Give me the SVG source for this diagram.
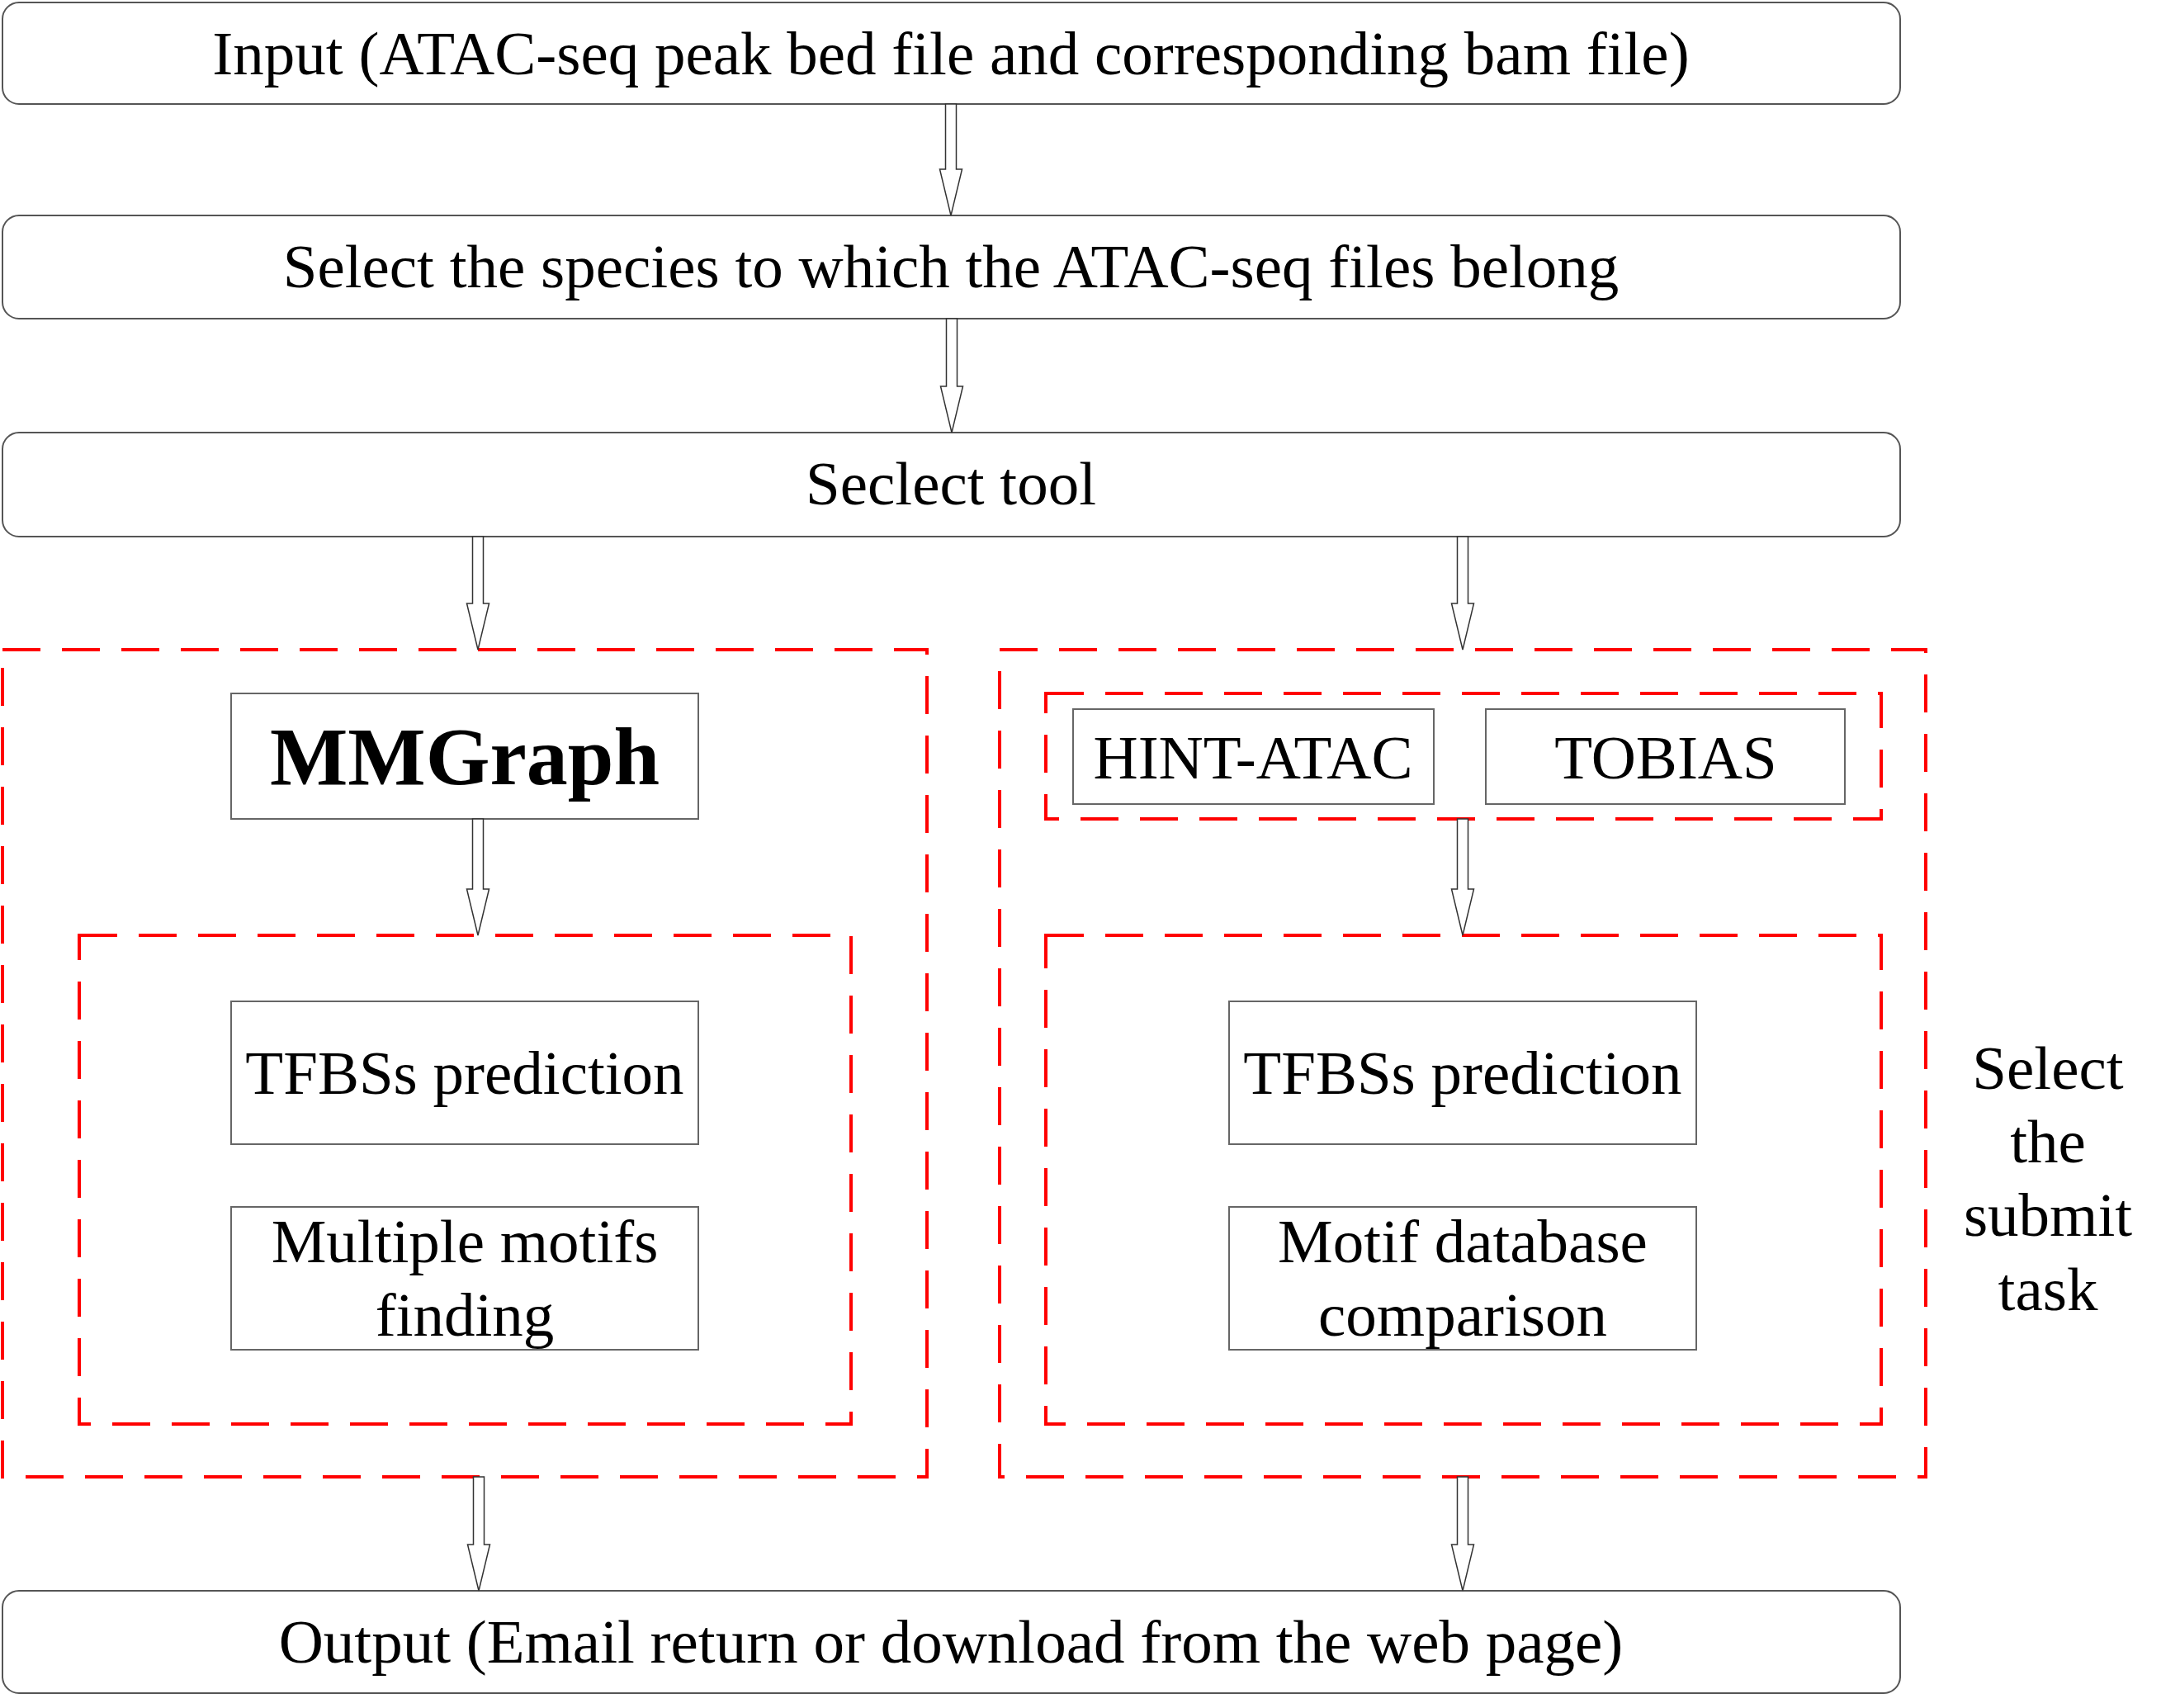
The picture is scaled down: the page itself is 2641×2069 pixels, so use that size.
<svg xmlns="http://www.w3.org/2000/svg" width="2641" height="2069" viewBox="0 0 2641 2069">
<style>
text{font-family:"Liberation Serif","Times New Roman",serif;font-size:75px;fill:#000;text-anchor:middle}
.rb{fill:#fff;stroke:#555;stroke-width:2}
.nb{fill:#fff;stroke:#666;stroke-width:2}
.dash{fill:none;stroke:#ff0000;stroke-width:4;stroke-dasharray:46 26}
.arr{fill:#fff;stroke:#333;stroke-width:1.5;stroke-linejoin:miter}
</style>
<rect width="2641" height="2069" fill="#fff"/>
<g id="groups">
<rect id="left-group" class="dash" x="3" y="787" width="1120" height="1002"/>
<rect id="right-group" class="dash" x="1211" y="787" width="1122" height="1002"/>
<rect id="left-inner" class="dash" x="96" y="1133" width="935" height="592"/>
<rect id="right-tools" class="dash" x="1267" y="840" width="1012" height="152"/>
<rect id="right-inner" class="dash" x="1267" y="1133" width="1012" height="592"/>
</g>
<g id="input"><rect class="rb" x="3" y="3" width="2299" height="123" rx="20"/><text x="1152" y="90">Input (ATAC-seq peak bed file and corresponding bam file)</text></g>
<g id="species"><rect class="rb" x="3" y="261" width="2299" height="125" rx="20"/><text x="1152" y="348">Select the species to which the ATAC-seq files belong</text></g>
<g id="tool"><rect class="rb" x="3" y="524" width="2299" height="126" rx="20"/><text x="1152" y="611">Seclect tool</text></g>
<g id="mmgraph"><rect class="nb" x="280" y="840" width="566" height="152"/><text x="563" y="950" style="font-weight:bold;font-size:100px">MMGraph</text></g>
<g id="hint"><rect class="nb" x="1300" y="859" width="437" height="115"/><text x="1518" y="943">HINT-ATAC</text></g>
<g id="tobias"><rect class="nb" x="1800" y="859" width="435" height="115"/><text x="2018" y="943">TOBIAS</text></g>
<g id="tfbs-left"><rect class="nb" x="280" y="1213" width="566" height="173"/><text x="563" y="1325">TFBSs prediction</text></g>
<g id="motifs"><rect class="nb" x="280" y="1462" width="566" height="173"/><text x="563" y="1529">Multiple motifs</text><text x="563" y="1618">finding</text></g>
<g id="tfbs-right"><rect class="nb" x="1489" y="1213" width="566" height="173"/><text x="1772" y="1325">TFBSs prediction</text></g>
<g id="motifdb"><rect class="nb" x="1489" y="1462" width="566" height="173"/><text x="1772" y="1529">Motif database</text><text x="1772" y="1618">comparison</text></g>
<g id="submit-label"><text x="2481" y="1319">Select</text><text x="2481" y="1408">the</text><text x="2481" y="1497">submit</text><text x="2481" y="1587">task</text></g>
<g id="output"><rect class="rb" x="3" y="1927" width="2299" height="124" rx="20"/><text x="1152" y="2014">Output (Email return or download from the web page)</text></g>
<g id="connectors">
<path class="arr" d="M1145.5 126 L1158.5 126 L1158.5 205 L1165.5 205 L1152 261 L1138.5 205 L1145.5 205 Z"/>
<path class="arr" d="M1146.5 386 L1159.5 386 L1159.5 468 L1166.5 468 L1153 524 L1139.5 468 L1146.5 468 Z"/>
<path class="arr" d="M572.5 650 L585.5 650 L585.5 731 L592.5 731 L579 787 L565.5 731 L572.5 731 Z"/>
<path class="arr" d="M1765.5 650 L1778.5 650 L1778.5 731 L1785.5 731 L1772 787 L1758.5 731 L1765.5 731 Z"/>
<path class="arr" d="M572.5 992 L585.5 992 L585.5 1077 L592.5 1077 L579 1133 L565.5 1077 L572.5 1077 Z"/>
<path class="arr" d="M1765.5 992 L1778.5 992 L1778.5 1077 L1785.5 1077 L1772 1133 L1758.5 1077 L1765.5 1077 Z"/>
<path class="arr" d="M573.5 1789 L586.5 1789 L586.5 1871 L593.5 1871 L580 1927 L566.5 1871 L573.5 1871 Z"/>
<path class="arr" d="M1765.5 1789 L1778.5 1789 L1778.5 1871 L1785.5 1871 L1772 1927 L1758.5 1871 L1765.5 1871 Z"/>
</g>
</svg>
